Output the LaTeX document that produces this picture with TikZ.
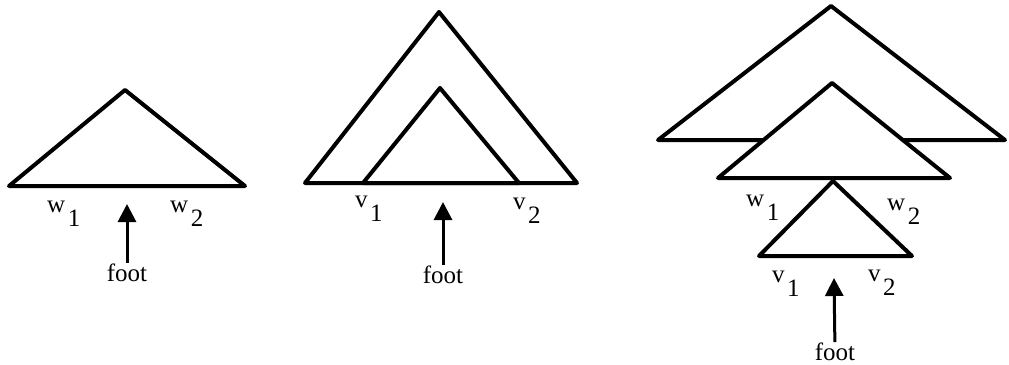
\documentclass[tikz,border=0pt]{standalone}
\usepackage{fontspec}
\setmainfont{Liberation Serif}
\usetikzlibrary{arrows.meta}
\newcommand{\sublab}[2]{#1\kern2.5pt\raisebox{-14pt}{#2}}

\begin{document}
\begin{tikzpicture}[x=1pt, y=-1pt,
  tri/.style={draw, fill=white, line width=4pt, line join=round},
  lab/.style={anchor=base west, inner sep=0pt, font=\fontsize{25}{28}\selectfont},
  footlab/.style={anchor=base, inner sep=0pt, font=\fontsize{25}{28}\selectfont},
  arr/.style={-{Triangle[length=18pt, width=18pt]}, line width=3pt}]
\useasboundingbox (0,0) rectangle (1009,364);
% triangles: apex x, apex y, left x, right x, base y
\foreach \ax/\ay/\lx/\rx/\by in {125/90/9/245/186,
    439/12/305/577/183, 440/88/363/519/183,
    831/6/658/1005/140, 832/83/718/950/178, 833/181/759/912/256}
  \draw[tri] (\ax,\ay) -- (\lx,\by) -- (\rx,\by) -- cycle;
% left: single tree
\node[lab] (wa) at (47,212) {\sublab{w}{1}};
\node[lab] (wb) at (170,212) {\sublab{w}{2}};
\node[footlab] (footA) at (127,281) {foot};
\coordinate (tipA) at (127,204);
% middle: adjoined at the foot
\node[lab] (va) at (355,207) {\sublab{v}{1}};
\node[lab] (vb) at (513,209) {\sublab{v}{2}};
\node[footlab] (footB) at (443,283) {foot};
\coordinate (tipB) at (443,202);
% right: stacked
\node[lab] (wc) at (746,206) {\sublab{w}{1}};
\node[lab] (wd) at (887,210) {\sublab{w}{2}};
\node[lab] (vc) at (772,282) {\sublab{v}{1}};
\node[lab] (vd) at (868,281) {\sublab{v}{2}};
\node[footlab] (footC) at (835,360) {foot};
\coordinate (tipC) at (834,278);
\foreach \f/\t in {footA/tipA, footB/tipB, footC/tipC} \draw[arr] (\f) -- (\t);
\end{tikzpicture}
\end{document}
